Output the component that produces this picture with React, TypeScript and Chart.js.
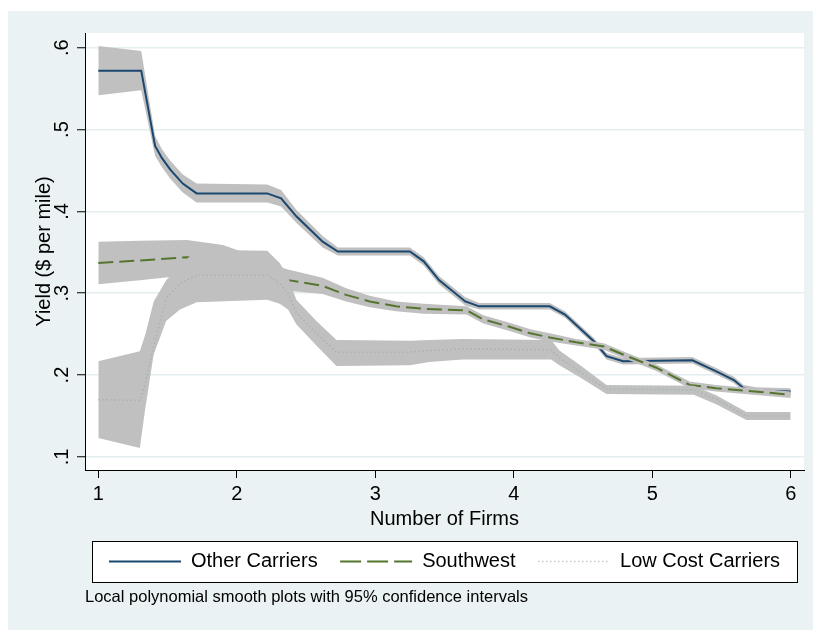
import React, { useEffect, useRef } from "react";
import { Chart, registerables } from "chart.js";

Chart.register(...registerables);

const FONT = '"Liberation Sans", Arial, Helvetica, sans-serif';

// ---- data ----
const seriesNames = ["Other Carriers", "Southwest", "Low Cost Carriers"];

const xOther = [1.0, 1.31, 1.41, 1.46, 1.52, 1.61, 1.71, 2.22, 2.32, 2.43, 2.62, 2.73, 3.25, 3.35, 3.46, 3.65, 3.75, 4.26, 4.37, 4.58, 4.67, 4.79, 5.29, 5.47, 5.59, 5.66, 5.75, 6.0];
const yOther = [0.572, 0.572, 0.48, 0.465, 0.451, 0.434, 0.422, 0.422, 0.416, 0.394, 0.363, 0.351, 0.351, 0.339, 0.316, 0.29, 0.284, 0.284, 0.274, 0.241, 0.223, 0.217, 0.218, 0.204, 0.194, 0.184, 0.181, 0.18];
const loOther = [0.542, 0.548, 0.468, 0.454, 0.44, 0.423, 0.411, 0.411, 0.406, 0.386, 0.356, 0.346, 0.346, 0.334, 0.311, 0.285, 0.28, 0.28, 0.27, 0.237, 0.219, 0.213, 0.214, 0.2, 0.19, 0.18, 0.177, 0.176];
const hiOther = [0.602, 0.596, 0.492, 0.476, 0.462, 0.445, 0.434, 0.433, 0.426, 0.402, 0.37, 0.356, 0.356, 0.344, 0.321, 0.295, 0.288, 0.288, 0.278, 0.245, 0.227, 0.221, 0.222, 0.208, 0.198, 0.188, 0.185, 0.184];

const xSW = [1.0, 1.3, 1.64, 1.9, 2.1, 2.25, 2.37, 2.62, 2.79, 2.96, 3.15, 3.35, 3.66, 3.78, 3.97, 4.12, 4.26, 4.45, 4.65, 4.82, 5.03, 5.27, 5.46, 6.0];
const ySW = [0.337, 0.34, 0.344, 0.342, 0.334, 0.323, 0.316, 0.309, 0.298, 0.29, 0.284, 0.281, 0.279, 0.268, 0.259, 0.251, 0.246, 0.24, 0.235, 0.223, 0.209, 0.188, 0.184, 0.176];
const loSW = [0.311, 0.316, 0.322, 0.326, 0.321, 0.311, 0.303, 0.299, 0.29, 0.283, 0.278, 0.275, 0.274, 0.263, 0.254, 0.246, 0.241, 0.236, 0.231, 0.219, 0.205, 0.184, 0.18, 0.172];
const hiSW = [0.363, 0.364, 0.365, 0.359, 0.347, 0.335, 0.329, 0.319, 0.306, 0.297, 0.29, 0.287, 0.284, 0.273, 0.264, 0.256, 0.251, 0.244, 0.239, 0.227, 0.213, 0.192, 0.188, 0.18];

const xLCC = [1.0, 1.3, 1.34, 1.4, 1.49, 1.59, 1.71, 2.22, 2.31, 2.37, 2.43, 2.575, 2.72, 3.25, 3.39, 3.63, 4.27, 4.33, 4.48, 4.67, 5.3, 5.465, 5.68, 6.0];
const yLCC = [0.17, 0.169, 0.19, 0.235, 0.294, 0.312, 0.322, 0.322, 0.312, 0.3, 0.276, 0.251, 0.228, 0.228, 0.23, 0.232, 0.231, 0.221, 0.204, 0.183, 0.182, 0.17, 0.15, 0.15];
const loLCC = [0.123, 0.111, 0.16, 0.225, 0.266, 0.28, 0.289, 0.292, 0.287, 0.28, 0.262, 0.236, 0.211, 0.212, 0.216, 0.219, 0.219, 0.212, 0.197, 0.177, 0.176, 0.164, 0.145, 0.145];
const hiLCC = [0.217, 0.229, 0.25, 0.29, 0.316, 0.334, 0.353, 0.352, 0.337, 0.32, 0.292, 0.266, 0.243, 0.242, 0.243, 0.244, 0.243, 0.23, 0.212, 0.188, 0.187, 0.175, 0.155, 0.155];

const xTicks = [1, 2, 3, 4, 5, 6];
const xTickLabels = ["1", "2", "3", "4", "5", "6"];
const yTicks = [0.1, 0.2, 0.3, 0.4, 0.5, 0.6];
const yTickLabels = [".1", ".2", ".3", ".4", ".5", ".6"];

const xTitle = "Number of Firms";
const yTitle = "Yield ($ per mile)";
const note = "Local polynomial smooth plots with 95% confidence intervals";

// ---- styles ----
const BAND = "#c0c0c0";
const NAVY = "#1a476f";
const GREEN = "#55752f";
const DOT = "#a4b6ad";
const CLEAR = "rgba(0,0,0,0)";

const pts = (xs: number[], ys: number[]) => xs.map((x, i) => ({ x, y: ys[i] }));

const bgPlugin = {
  id: "stataBg",
  beforeDraw(chart: any) {
    const { ctx, chartArea } = chart;
    ctx.save();
    ctx.fillStyle = "#ffffff";
    ctx.fillRect(chartArea.left, chartArea.top, chartArea.right - chartArea.left, chartArea.bottom - chartArea.top);
    const l = chart.legend;
    if (l) {
      const x0 = l.left + 7;
      const x1 = l.right - 7;
      const y0 = l.top + 12;
      const y1 = l.bottom + 0.5;
      ctx.fillRect(x0, y0, x1 - x0, y1 - y0);
      ctx.strokeStyle = "#000";
      ctx.lineWidth = 1;
      ctx.strokeRect(Math.round(x0) + 0.5, Math.round(y0) + 0.5, Math.round(x1 - x0), Math.round(y1 - y0));
    }
    ctx.restore();
  },
};

export default function App() {
  const ref = useRef<HTMLCanvasElement>(null);

  useEffect(() => {
    if (!ref.current) return;
    const line = { pointRadius: 0, tension: 0, fill: false } as any;
    const datasets: any[] = [
      { ...line, label: "hiOther", data: pts(xOther, hiOther), fill: 1, backgroundColor: BAND, borderColor: CLEAR, borderWidth: 0, order: 9 },
      { ...line, label: "loOther", data: pts(xOther, loOther), borderColor: CLEAR, borderWidth: 0, order: 8 },
      { ...line, label: seriesNames[0], data: pts(xOther, yOther), borderColor: NAVY, borderWidth: 2, order: 7 },
      { ...line, label: "hiSW", data: pts(xSW, hiSW), fill: 4, backgroundColor: BAND, borderColor: CLEAR, borderWidth: 0, order: 6 },
      { ...line, label: "loSW", data: pts(xSW, loSW), borderColor: CLEAR, borderWidth: 0, order: 5 },
      { ...line, label: seriesNames[1], data: pts(xSW, ySW), borderColor: GREEN, borderWidth: 2, borderDash: [15, 6], order: 4 },
      { ...line, label: "hiLCC", data: pts(xLCC, hiLCC), fill: 7, backgroundColor: BAND, borderColor: CLEAR, borderWidth: 0, order: 3 },
      { ...line, label: "loLCC", data: pts(xLCC, loLCC), borderColor: CLEAR, borderWidth: 0, order: 2 },
      { ...line, label: seriesNames[2], data: pts(xLCC, yLCC), borderColor: DOT, borderWidth: 1.5, borderDash: [1.5, 2.5], order: 1 },
    ];

    const legendStyles = [
      { strokeStyle: NAVY, lineDash: [], lineWidth: 2 },
      { strokeStyle: GREEN, lineDash: [21, 6], lineWidth: 2 },
      { strokeStyle: "#c4ccc8", lineDash: [1.5, 2.5], lineWidth: 1.5 },
    ];

    const chart = new Chart(ref.current, {
      type: "line",
      data: { datasets },
      plugins: [bgPlugin],
      options: {
        animation: false,
        responsive: true,
        maintainAspectRatio: false,
        events: [],
        layout: { padding: { top: 22, right: 9, left: 0, bottom: 0 } },
        scales: {
          x: {
            type: "linear",
            min: 0.904,
            max: 6.096,
            afterBuildTicks: (s: any) => {
              s.ticks = xTicks.map((v) => ({ value: v }));
            },
            afterFit: (s: any) => {
              s.height = 59;
            },
            ticks: {
              autoSkip: false,
              maxRotation: 0,
              padding: 4,
              color: "#000",
              font: { family: FONT, size: 20 },
              callback: (_v: any, i: number) => xTickLabels[i],
            },
            grid: { drawOnChartArea: false, drawTicks: true, tickLength: 8, tickColor: "#000", tickWidth: 1 },
            border: { display: true, color: "#000", width: 1 },
            title: {
              display: true,
              text: xTitle,
              color: "#000",
              font: { family: FONT, size: 20, lineHeight: 0.75 },
              padding: { top: 0, bottom: 2.5 },
            },
          },
          y: {
            type: "linear",
            min: 0.084,
            max: 0.618,
            afterBuildTicks: (s: any) => {
              s.ticks = yTicks.map((v) => ({ value: v }));
            },
            afterFit: (s: any) => {
              s.width = 77;
            },
            ticks: {
              minRotation: 90,
              maxRotation: 90,
              crossAlign: "center",
              padding: 6,
              color: "#000",
              font: { family: FONT, size: 20 },
              callback: (_v: any, i: number) => yTickLabels[i],
            },
            grid: { color: "#e4edef", lineWidth: 1.5, drawTicks: true, tickLength: 8, tickColor: "#000", tickWidth: 1 },
            border: { display: true, color: "#000", width: 1 },
            title: {
              display: true,
              text: yTitle,
              color: "#000",
              font: { family: FONT, size: 20 },
              padding: { top: 24, bottom: 0 },
            },
          },
        },
        plugins: {
          tooltip: { enabled: false },
          legend: {
            display: true,
            position: "bottom",
            fullSize: false,
            labels: {
              usePointStyle: true,
              pointStyleWidth: 72,
              padding: 22.5,
              color: "#000",
              font: { family: FONT, size: 20 },
              generateLabels: () =>
                seriesNames.map((name, i) => ({
                  text: name,
                  fillStyle: CLEAR,
                  strokeStyle: legendStyles[i].strokeStyle,
                  lineDash: legendStyles[i].lineDash,
                  lineWidth: legendStyles[i].lineWidth,
                  lineCap: "butt",
                  pointStyle: "line",
                  hidden: false,
                  fontColor: "#000",
                  datasetIndex: i * 3 + 2,
                })) as any,
            },
          },
          title: {
            display: true,
            position: "bottom",
            align: "start",
            fullSize: false,
            text: note,
            color: "#000",
            font: { family: FONT, size: 16.5, weight: "normal", lineHeight: 1.2 },
            padding: { top: 6, bottom: 22.7 },
          },
        },
      } as any,
    });
    return () => chart.destroy();
  }, []);

  return (
    <div
      style={{
        position: "absolute",
        left: 8,
        top: 11,
        width: 805,
        height: 619,
        background: "#eaf2f3",
      }}
    >
      <canvas ref={ref} />
    </div>
  );
}
